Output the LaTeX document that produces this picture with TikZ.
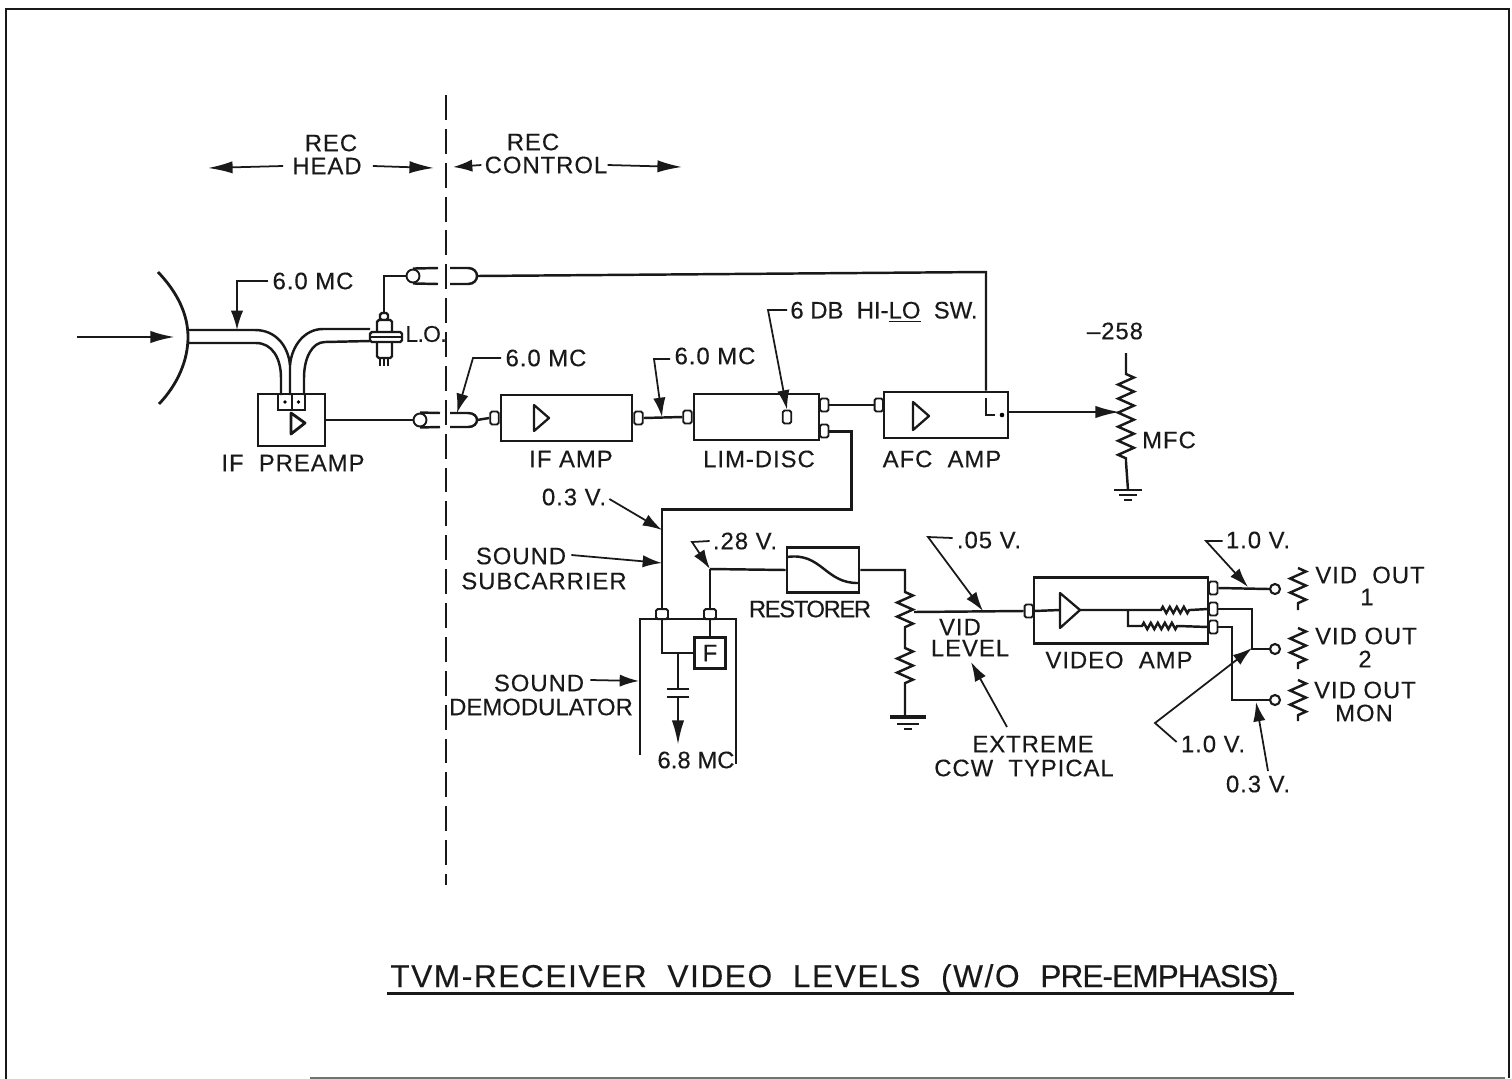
\documentclass[tikz,border=0pt]{standalone}
\usepackage{fontspec}
\setmainfont[LetterSpace=4, FakeBold=0.3]{Liberation Sans}
\usetikzlibrary{arrows.meta, decorations.pathmorphing}

\begin{document}
\begin{tikzpicture}[
    x=0.02cm, y=-0.02cm,
    every node/.style={font=\fontsize{13.6}{14}\selectfont, inner sep=0pt, text=black!90},
    tight/.style={font=\fontsize{13.6}{14}\selectfont\addfontfeature{LetterSpace=0}},
    tighter/.style={font=\fontsize{13.6}{14}\selectfont\addfontfeature{LetterSpace=-6}},
    wire/.style={draw=black!90, line width=1.4pt},
    thin wire/.style={draw=black!90, line width=0.9pt},
    box/.style={rectangle, draw=black!90, line width=1.5pt, minimum height=0.92cm},
    port/.style={rectangle, rounded corners=1pt, draw=black!90, line width=1.1pt, minimum width=0.17cm, minimum height=0.26cm, fill=white},
    topport/.style={port, minimum width=0.24cm, minimum height=0.2cm},
    term/.style={circle, draw=black!90, line width=1.2pt, minimum size=0.2cm, fill=white},
    tri/.style={draw=black!90, line width=1.3pt, line join=round},
    arrow/.style={-{Latex[length=14pt, width=7pt]}, wire},
    lead/.style={-{Latex[length=11pt, width=7pt]}, draw=black!90, line width=1pt},
    zig/.style={decoration={zigzag, segment length=8pt, amplitude=4.5pt}},
    zigsmall/.style={decoration={zigzag, segment length=4pt, amplitude=1.8pt}}]

  \useasboundingbox (0,0) rectangle (1512,1079);
  \draw[wire, line width=1pt] (6,1079) -- (6,9) -- (1509,9) -- (1509,1078);
  \draw[draw=black!55, line width=1pt] (1505,1078) -- (310,1078);

  % division between head and control
  \coordinate (divtop) at (446,95);
  \coordinate (divbot) at (446,885);
  \draw[thin wire, line width=1pt, dash pattern=on 25*0.567pt off 9*0.567pt] (divtop) -- (divbot);

  \node (rechead) at (331,143) {REC};
  \node (head) at (327,166) {HEAD};
  \node (reccontrol) at (533,142) {REC};
  \node (control) at (546,165) {CONTROL};
  \coordinate (headl) at (208,168);
  \coordinate (headr) at (434,168);
  \coordinate (ctrll) at (453,167);
  \coordinate (ctrlr) at (682,167);
  \draw[arrow, line width=1pt] (head.west) ++(-9,0) -- (headl);
  \draw[arrow, line width=1pt] (head.east) ++(11,0) -- (headr);
  \draw[lead] (control.west) ++(-3,0) -- (ctrll);
  \draw[arrow, line width=1pt] (control.east) -- (ctrlr);

  % dish and waveguide
  \coordinate (inA) at (77,337);
  \coordinate (inB) at (175,337);
  \draw[arrow] (inA) -- (inB);
  \draw[wire, line width=1.6pt] (158,272) .. controls (178,293) and (188,315) .. (188,337)
                                         .. controls (188,360) and (178,384) .. (159,404);
  \draw[wire] (188,330) -- (255,330) .. controls (275,330) and (288,345) .. (290,365) -- (290,395);
  \draw[wire] (188,343) -- (256,343) .. controls (272,343) and (281,358) .. (281,378) -- (281,395);
  \draw[wire] (370,329) -- (323,329) .. controls (305,329) and (292,345) .. (290,365);
  \draw[wire] (370,341) -- (325,342) .. controls (312,342) and (304,358) .. (304,378) -- (304,395);

  \node (mcA) at (313,281) {6.0 MC};
  \coordinate (mcAb) at (237,281);
  \coordinate (mcAt) at (237,330);
  \draw[lead] (mcA.west) ++(-4,0) -- (mcAb) -- (mcAt);

  % if preamp
  \node[box, minimum width=1.34cm, minimum height=1.04cm] (preamp) at (291.5,420) {};
  \node[rectangle, draw=black!90, line width=1.1pt, minimum width=0.27cm, minimum height=0.32cm] (wgl) at (285,402) {};
  \node[rectangle, draw=black!90, line width=1.1pt, minimum width=0.27cm, minimum height=0.32cm] (wgr) at (298.5,402) {};
  \fill (wgl) circle (1.1pt);
  \fill (wgr) circle (1.1pt);
  \draw[tri, line width=1.6pt] (291,413) -- (291,434) -- (305,423) -- cycle;
  \node (preamplbl) at (293,463) {IF\ \ PREAMP};

  % L.O.
  \draw[wire, fill=white, rounded corners=1pt] (380,313) rectangle (388,320);
  \draw[thin wire] (380,358) -- (380,366) (384,358) -- (384,366) (388,358) -- (388,366);
  \draw[wire, fill=white, rounded corners=1pt] (377,320) rectangle (392,358);
  \draw[wire, fill=white, rounded corners=1pt] (370,332) rectangle (402,342);
  \draw[thin wire] (370,337) -- (402,337);
  \node[font=\fontsize{13}{14}\selectfont\addfontfeature{LetterSpace=-3}] (lolbl) at (426,334) {L.O.};

  % coax pairs
  \node[circle, draw=black!90, line width=1.1pt, minimum size=0.26cm] (coaxA) at (413,276) {};
  \coordinate (lotop) at (384,313);
  \draw[wire] (lotop) |- (coaxA.west);
  \draw[wire] (coaxA.north) -- (438,268);
  \draw[wire] (coaxA.south) -- (438,284);
  \draw[wire] (450,268) -- (468,268) .. controls (480,268) and (480,284) .. (468,284) -- (450,284);
  \node[circle, draw=black!90, line width=1.1pt, minimum size=0.26cm] (coaxB) at (420,420) {};
  \draw[wire] (preamp.east) -- (coaxB.west);
  \draw[wire] (coaxB.north) -- (440,413);
  \draw[wire] (coaxB.south) -- (440,427);
  \draw[wire] (450,413) -- (468,413) .. controls (480,413) and (480,427) .. (468,427) -- (450,427);

  % receiver strip
  \node[box, minimum width=2.62cm] (ifamp) at (566.5,418) {};
  \node[box, minimum width=2.5cm] (limdisc) at (756.5,417) {};
  \node[box, minimum width=2.48cm] (afcamp) at (946,415) {};
  \node[port, anchor=east] (ifin) at (ifamp.west) {};
  \node[port, anchor=west] (ifout) at (ifamp.east) {};
  \node[port, anchor=east] (limin) at (limdisc.west) {};
  \node[port, anchor=west] (limouta) at (819,405) {};
  \node[port, anchor=west] (limoutb) at (819,431) {};
  \node[port, anchor=east] (afcin) at (884,405) {};
  \draw[tri] (534,405) -- (534,431) -- (549,418) -- cycle;
  \draw[tri] (913,402) -- (913,430) -- (929,416) -- cycle;
  \node[rectangle, draw=black!90, line width=1.1pt, rounded corners=1pt, minimum width=0.17cm, minimum height=0.26cm] (hilosw) at (787,417) {};
  \node (iflbl) at (571,459) {IF AMP};
  \node (limlbl) at (759,459) {LIM-DISC};
  \node (afclbl) at (942,459) {AFC\ \ AMP};
  \coordinate (capB) at (477,420);
  \draw[wire] (capB) -- (ifin.west);
  \draw[wire] (ifout.east) -- (limin.west);
  \draw[wire] (limouta.east) -- (afcin.west);

  \coordinate (capA) at (477,276);
  \coordinate (afctap) at (986,272);
  \coordinate (afcdot) at (995,415);
  \draw[wire] (capA) -- (afctap) -- (afctap |- afcamp.north);
  \draw[wire] (986,398) -- (986,415) -- (afcdot);
  \fill (1002,415) circle (1.3pt);

  \node (mcB) at (546,358) {6.0 MC};
  \coordinate (mcBb) at (473,358);
  \coordinate (mcBt) at (457,413);
  \draw[lead] (mcB.west) ++(-4,0) -- (mcBb) -- (mcBt);
  \node (mcC) at (715,356) {6.0 MC};
  \coordinate (mcCb) at (654,359);
  \coordinate (mcCt) at (662,417);
  \draw[lead] (mcC.west) ++(-4,3) -- (mcCb) -- (mcCt);
  \node[tight] (swlbl) at (884,312) {6 DB\ \ HI-\underline{LO}\ \ SW.};
  \coordinate (swb) at (768,310);
  \draw[lead] (swlbl.west) ++(-3,-2) -- (swb) -- (hilosw.north);

  % mfc pot
  \node (mfcv) at (1115,331) {–258};
  \coordinate (mfctop) at (1126,353);
  \coordinate (mfcA) at (1126,374);
  \coordinate (mfcB) at (1126,462);
  \coordinate (mfcgnd) at (1128,490);
  \coordinate (mfcw) at (1120,412);
  \draw[wire] (mfctop) -- (mfcA) decorate[zig] {-- (mfcB)} -- (mfcgnd);
  \draw[wire, line width=1.6pt] (mfcgnd) ++(-14,0) -- ++(28,0);
  \draw[wire] (mfcgnd) ++(-9,5) -- ++(18,0);
  \draw[wire] (mfcgnd) ++(-4,10) -- ++(8,0);
  \draw[arrow] (afcamp.east |- mfcw) -- (mfcw);
  \node (mfclbl) at (1169,440) {MFC};

  % sound demodulator
  \draw[wire] (640,755) -- (640,619) -- (736,619) -- (736,764);
  \node[topport, anchor=south] (sndin) at (662,620) {};
  \node[topport, anchor=south] (sndout) at (710,620) {};
  \node[box, line width=1.2pt, minimum width=0.62cm, minimum height=0.62cm, fill=white] (filt) at (710,653) {F};
  \coordinate (sndturn) at (851,509);
  \coordinate (rest) at (710,569);
  \draw[wire, line width=1.7pt] (limoutb.east) -| (sndturn) -| (sndin.north);
  \draw[wire] (sndout.north) -- (rest);
  \coordinate (capjoin) at (678,653);
  \coordinate (capt) at (678,689);
  \coordinate (capb) at (678,697);
  \coordinate (capend) at (678,745);
  \draw[wire] (sndin.south) -- (662,653) -- (filt.west);
  \draw[wire] (sndout.south) -- (filt.north);
  \draw[wire] (capjoin) -- (capt);
  \draw[wire] (667,689) -- (689,689);
  \draw[wire] (667,697) -- (689,697);
  \draw[arrow] (capb) -- (capend);
  \node[tight] (mclbl) at (696,760) {6.8 MC};

  \node (vA) at (574,497) {0.3 V.};
  \coordinate (vAt) at (662,530);
  \draw[lead] (vA.east) ++(3,2) -- (vAt);
  \node (subA) at (521,556) {SOUND};
  \node (subB) at (544,581) {SUBCARRIER};
  \coordinate (subt) at (662,563);
  \draw[lead] (subA.east) ++(5,-1) -- (subt);
  \node (demA) at (539,683) {SOUND};
  \node[tight] (demB) at (541,707) {DEMODULATOR};
  \coordinate (demt) at (639,681);
  \draw[lead] (demA.east) ++(6,-3) -- (demt);
  \node (vB) at (745,541) {.28 V.};
  \coordinate (vBb) at (692,542);
  \draw[lead] (vB.west) ++(-3,0) -- (vBb) -- (rest);

  % restorer
  \node[box, minimum width=1.44cm, minimum height=0.9cm] (restorer) at (823,570) {};
  \draw[wire] (787,557) .. controls (822,552) and (825,584) .. (859,583);
  \node[tighter] (restlbl) at (810,609) {RESTORER};
  \draw[wire] (rest) -- (restorer.west);

  % vid level pot
  \coordinate (vlA) at (905,592);
  \coordinate (vlB) at (905,630);
  \coordinate (vlC) at (905,648);
  \coordinate (vlD) at (905,688);
  \coordinate (vlgnd) at (908,717);
  \coordinate (vlw) at (914,612);
  \draw[wire] (restorer.east) -| (vlA) decorate[zig] {-- (vlB)} -- (vlC) decorate[zig] {-- (vlD)} -- (905,717);
  \draw[wire, line width=1.8pt] (vlgnd) ++(-18,0) -- ++(36,0);
  \draw[wire] (vlgnd) ++(-11,7) -- ++(22,0);
  \draw[wire] (vlgnd) ++(-4,12) -- ++(8,0);
  \node (vlevA) at (960,627) {VID};
  \node (vlevB) at (970,648) {LEVEL};
  \node (vC) at (989,540) {.05 V.};
  \coordinate (vCb) at (928,537);
  \coordinate (vCt) at (983,611);
  \draw[lead] (vC.west) ++(-4,-2) -- (vCb) -- (vCt);
  \node (extA) at (1033,744) {EXTREME};
  \node (extB) at (1024,768) {CCW\ \ TYPICAL};
  \coordinate (extt) at (971,662);
  \draw[lead] (1007,727) -- (extt);

  % video amp
  \node[box, minimum width=3.48cm, minimum height=1.32cm] (vidamp) at (1121,610.5) {};
  \node[port, anchor=east] (vidin) at (1034,611) {};
  \node[port, anchor=west] (voutA) at (1208,588) {};
  \node[port, anchor=west] (voutB) at (1208,609) {};
  \node[port, anchor=west] (voutC) at (1208,627) {};
  \draw[tri] (1060,593) -- (1060,628) -- (1080,610) -- cycle;
  \node (vidlbl) at (1119,660) {VIDEO\ \ AMP};
  \draw[wire] (vlw) -- (vidin.west);
  \draw[wire] (vidin.east) -- (1060,610);
  \coordinate (rsA) at (1161,610);
  \coordinate (rsB) at (1190,610);
  \coordinate (rsC) at (1142,626);
  \coordinate (rsD) at (1178,626);
  \draw[wire] (1080,610) -- (rsA) decorate[zigsmall] {-- (rsB)} -- (voutB.west);
  \draw[wire] (1128,610) |- (rsC) decorate[zigsmall] {-- (rsD)} -- (voutC.west);

  % outputs
  \node[term] (termA) at (1275,589) {};
  \node[term] (termB) at (1275,649) {};
  \node[term] (termC) at (1275,700) {};
  \draw[wire] (voutA.east) -- (termA.west);
  \draw[wire] (voutB.east) -- (1252,609) -- (1252,649) -- (termB.west);
  \draw[wire, line width=1.6pt] (voutC.east) -- (1232,627) -- (1232,700) -- (termC.west);
  \draw[wire, decorate, zig] (1298,568) -- (1298,610);
  \draw[wire, decorate, zig] (1298,628) -- (1298,669);
  \draw[wire, decorate, zig] (1298,680) -- (1298,721);
  \node (outA) at (1370,575) {VID\ \ OUT};
  \node (outAn) at (1367,597) {1};
  \node (outB) at (1366,636) {VID\ OUT};
  \node (outBn) at (1365,659) {2};
  \node (outC) at (1365,690) {VID\ OUT};
  \node (outCn) at (1364,713) {MON};

  \node (vD) at (1258,540) {1.0 V.};
  \coordinate (vDb) at (1206,541);
  \coordinate (vDt) at (1248,587);
  \draw[lead] (vD.west) ++(-3,1) -- (vDb) -- (vDt);
  \node (vE) at (1213,744) {1.0 V.};
  \coordinate (vEb) at (1155,723);
  \coordinate (vEt) at (1252,648);
  \draw[lead] (vE.west) ++(-4,-2) -- (vEb) -- (vEt);
  \node (vF) at (1258,784) {0.3 V.};
  \coordinate (vFt) at (1256,702);
  \draw[lead] (1268,771) -- (vFt);

  % title
  \node[font=\fontsize{18}{18}\selectfont\addfontfeature{LetterSpace=5}, anchor=base west] (title) at (390,987) {TVM-RECEIVER\ \ VIDEO\ \ LEVELS\ \ (W/O\ \ {\addfontfeature{LetterSpace=-3}PRE-EMPHASIS)}};
  \coordinate (ruleA) at (387,993);
  \coordinate (ruleB) at (1294,993);
  \draw[wire, line width=1.7pt] (ruleA) -- (ruleB);
\end{tikzpicture}
\end{document}
